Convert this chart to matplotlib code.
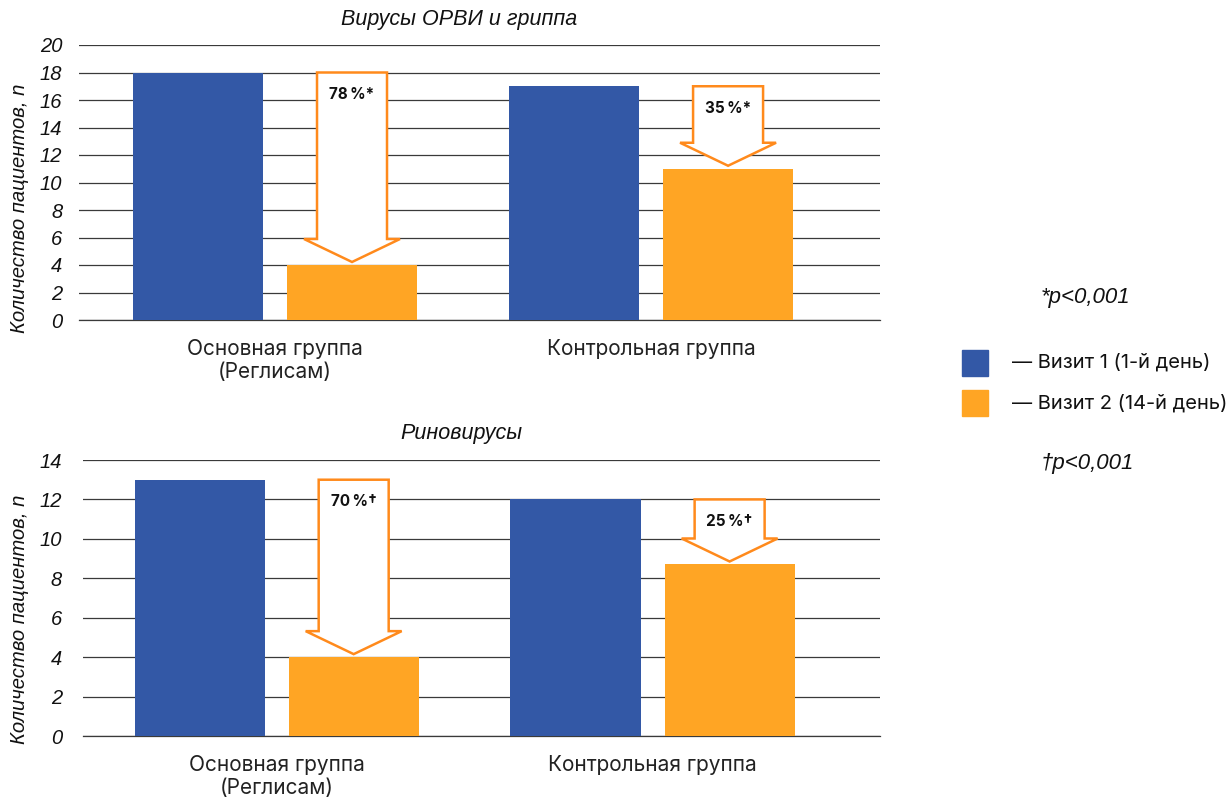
import matplotlib.pyplot as plt
from matplotlib.patches import Polygon, Rectangle

# Patients positive for the virus at visit 1 and visit 2, by group
categories = ["Основная группа\n(Реглисам)", "Контрольная группа"]
orvi_visit1 = [18, 17]
orvi_visit2 = [4, 11]
orvi_drop = ["78\u2009%*", "35\u2009%*"]
rhino_visit1 = [13, 12]
rhino_visit2 = [4, 8.7]
rhino_drop = ["70\u2009%\u2020", "25\u2009%\u2020"]

BLUE = "#3358A6"
ORANGE = "#FFA524"
ARROW = "#FF8A1C"
GRID = "#3a3a3a"

ITALIC = dict(family=["Liberation Sans", "DejaVu Sans"], style="italic")
REGULAR = ["Inter", "DejaVu Sans"]

fig = plt.figure(figsize=(12.29, 7.98), dpi=100)
W, H = 1229, 798


def px_axes(left, right, top, bottom):
    return fig.add_axes([left / W, 1 - bottom / H, (right - left) / W, (bottom - top) / H])


def drop_arrow(ax, x, y_top, y_end, label):
    # hollow down arrow from the visit 1 level to just above the visit 2 bar
    x0, x1 = ax.get_xlim()
    y0, y1 = ax.get_ylim()
    sx = ax.bbox.width / (x1 - x0)
    sy = ax.bbox.height / (y1 - y0)
    shaft = 35 / sx
    head = 48 / sx
    head_len = 23 / sy
    tip = y_end + 3 / sy
    pts = [
        (x - shaft, y_top), (x + shaft, y_top), (x + shaft, tip + head_len),
        (x + head, tip + head_len), (x, tip), (x - head, tip + head_len),
        (x - shaft, tip + head_len),
    ]
    ax.add_patch(Polygon(pts, closed=True, facecolor="white", edgecolor=ARROW,
                         linewidth=1.8, zorder=4, joinstyle="miter"))
    ax.text(x, y_top - 22 / sy, label, ha="center", va="center", fontsize=11,
            fontweight="bold", family=REGULAR, color="#111111", zorder=5)


def panel(ax, v1, v2, drops, ymax, xlim, tick_pad):
    pos = [0, 1]
    bw = 0.346
    off = 0.205
    ax.set_xlim(*xlim)
    ax.set_ylim(0, ymax)
    ax.bar([p - off for p in pos], v1, width=bw, color=BLUE, zorder=3)
    ax.bar([p + off for p in pos], v2, width=bw, color=ORANGE, zorder=3)
    ax.set_yticks(range(0, ymax + 1, 2))
    ax.yaxis.grid(True, color=GRID, linewidth=0.9, zorder=0)
    ax.set_axisbelow(True)
    for s in ["top", "right", "left"]:
        ax.spines[s].set_visible(False)
    ax.spines["bottom"].set_color(GRID)
    ax.spines["bottom"].set_linewidth(0.9)
    ax.tick_params(axis="both", length=0)
    ax.tick_params(axis="y", pad=tick_pad)
    ax.tick_params(axis="x", pad=14)
    ax.set_xticks(pos)
    ax.set_xticklabels(categories, fontsize=15, family=REGULAR, color="#222222",
                       linespacing=1.15)
    for t in ax.get_yticklabels():
        t.set_fontsize(14.5)
        t.set_fontfamily(ITALIC["family"])
        t.set_fontstyle("italic")
        t.set_color("#111111")
    ax.set_ylabel("Количество пациентов, n", fontsize=14.6, color="#111111", **ITALIC)
    for p, a, b, lab in zip(pos, v1, v2, drops):
        drop_arrow(ax, p + off, a, b, lab)


ax1 = px_axes(79, 880, 45, 320)
panel(ax1, orvi_visit1, orvi_visit2, orvi_drop, 20, (-0.521, 1.609), 12)
ax1.yaxis.set_label_coords(-0.062, 0.407)

ax2 = px_axes(83, 880, 460, 736)
panel(ax2, rhino_visit1, rhino_visit2, rhino_drop, 14, (-0.515, 1.605), 15)
ax2.yaxis.set_label_coords(-0.068, 0.424)

fig.text(459 / W, 1 - 20 / H, "Вирусы ОРВИ и гриппа", ha="center", va="center",
         fontsize=15.5, color="#111111", **ITALIC)
fig.text(461 / W, 1 - 433 / H, "Риновирусы", ha="center", va="center",
         fontsize=15.5, color="#111111", **ITALIC)

# legend and footnotes on the right
fig.add_artist(Rectangle((962 / W, 1 - 376 / H), 26 / W, 26 / H,
                         transform=fig.transFigure, color=BLUE))
fig.add_artist(Rectangle((962 / W, 1 - 416 / H), 26 / W, 26 / H,
                         transform=fig.transFigure, color=ORANGE))
fig.text(1012 / W, 1 - 362 / H, "— Визит 1 (1-й день)", ha="left", va="center",
         fontsize=14.5, family=REGULAR, color="#111111")
fig.text(1012 / W, 1 - 403 / H, "— Визит 2 (14-й день)", ha="left", va="center",
         fontsize=14.5, family=REGULAR, color="#111111")
fig.text(1085 / W, 1 - 298 / H, "*p<0,001", ha="center", va="center",
         fontsize=16, color="#111111", **ITALIC)
fig.text(1087 / W, 1 - 464 / H, "\u2020p<0,001", ha="center", va="center",
         fontsize=16, color="#111111", **ITALIC)

fig.savefig("out.png", dpi=100, facecolor="white")
